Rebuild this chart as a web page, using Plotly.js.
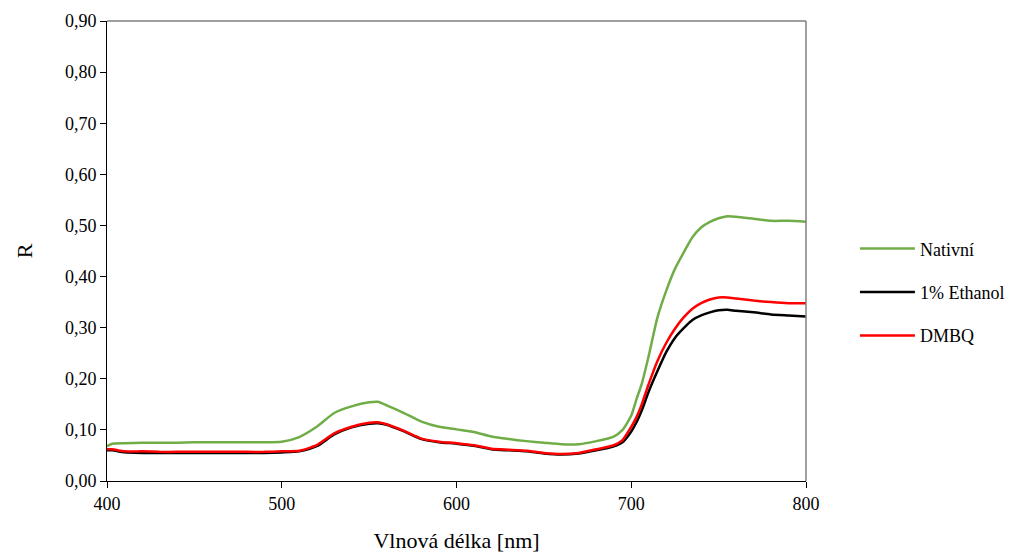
<!DOCTYPE html>
<html>
<head>
<meta charset="utf-8">
<script src="https://cdn.plot.ly/plotly-3.0.1.min.js"></script>
<style>html,body{margin:0;padding:0;background:#fff;}#chart{width:1035px;height:559px;}</style>
</head>
<body>
<div id="chart"></div>
<script>
const wavelength = [400,403,410,420,430,440,450,460,470,480,490,500,510,520,530,540,550,555,560,570,580,590,600,610,620,630,640,650,660,670,680,690,695,700,703,706,710,715,720,725,730,735,740,745,750,755,760,770,780,790,800];
const nativni = [0.068,0.073,0.074,0.075,0.075,0.075,0.076,0.076,0.076,0.076,0.076,0.077,0.086,0.106,0.133,0.146,0.154,0.155,0.148,0.133,0.116,0.106,0.101,0.096,0.087,0.082,0.078,0.075,0.072,0.072,0.078,0.087,0.100,0.128,0.160,0.190,0.245,0.320,0.372,0.415,0.447,0.477,0.496,0.507,0.514,0.518,0.517,0.513,0.509,0.509,0.507];
const ethanol = [0.060,0.060,0.056,0.055,0.055,0.055,0.055,0.055,0.055,0.055,0.055,0.056,0.058,0.068,0.091,0.105,0.112,0.113,0.110,0.097,0.082,0.076,0.073,0.069,0.062,0.060,0.058,0.054,0.052,0.054,0.060,0.068,0.076,0.097,0.115,0.138,0.175,0.215,0.252,0.280,0.299,0.315,0.324,0.330,0.334,0.335,0.333,0.330,0.326,0.324,0.322];
const dmbq = [0.062,0.062,0.058,0.058,0.057,0.057,0.057,0.057,0.057,0.057,0.057,0.058,0.059,0.070,0.093,0.106,0.114,0.115,0.111,0.098,0.083,0.077,0.074,0.070,0.063,0.061,0.059,0.055,0.053,0.055,0.062,0.070,0.080,0.106,0.125,0.150,0.190,0.235,0.270,0.298,0.320,0.337,0.348,0.355,0.359,0.359,0.357,0.353,0.350,0.348,0.348];
const seriesNames = ['Nativní','1% Ethanol','DMBQ'];
const seriesColors = ['#70ad47','#000000','#ff0000'];
const yTicks = [0,0.1,0.2,0.3,0.4,0.5,0.6,0.7,0.8,0.9];
const xTicks = [400,500,600,700,800];

const ys = [nativni, ethanol, dmbq];
const traces = ys.map((y,i)=>({
  x: wavelength, y: y, type:'scatter', mode:'lines', name: seriesNames[i],
  legendgroup: 'g'+i,
  line:{color:seriesColors[i], width:2.5, shape:'spline', smoothing:0.6}
}));

const FAM = 'Times New Roman';
const layout = {
  width:1035, height:559,
  margin:{l:107, r:229, t:21, b:78},
  paper_bgcolor:'#fff', plot_bgcolor:'#fff',
  separators:', ',
  font:{family:FAM, size:18, color:'#000'},
  showlegend:true,
  legend:{x:1.07, y:0.41, xanchor:'left', yanchor:'middle', tracegroupgap:17, itemwidth:55, bgcolor:'rgba(0,0,0,0)', font:{family:FAM, size:18, color:'#000'}},
  xaxis:{range:[400,800], tickvals:xTicks, ticks:'outside', ticklen:6, tickcolor:'#000', showline:true, linecolor:'#000', linewidth:1, showgrid:false, zeroline:false,
    tickfont:{family:FAM, size:18, color:'#000'},
    title:{text:'Vlnová délka [nm]', font:{family:FAM, size:22, color:'#000'}, standoff:20}},
  yaxis:{range:[0,0.9], tickvals:yTicks, tickformat:'.2f', ticks:'outside', ticklen:6, tickcolor:'#000', showline:true, linecolor:'#000', linewidth:1, showgrid:false, zeroline:false,
    tickfont:{family:FAM, size:18, color:'#000'},
    title:{text:'R', font:{family:FAM, size:22, color:'#000'}, standoff:26}},
  shapes:[
    {type:'line', xref:'paper', yref:'paper', x0:0, x1:1, y0:1, y1:1, line:{color:'#7f7f7f', width:1.5}},
    {type:'line', xref:'paper', yref:'paper', x0:1, x1:1, y0:0, y1:1, line:{color:'#7f7f7f', width:1.5}}
  ]
};
Plotly.newPlot('chart', traces, layout, {displayModeBar:false, staticPlot:true});
</script>
</body>
</html>
